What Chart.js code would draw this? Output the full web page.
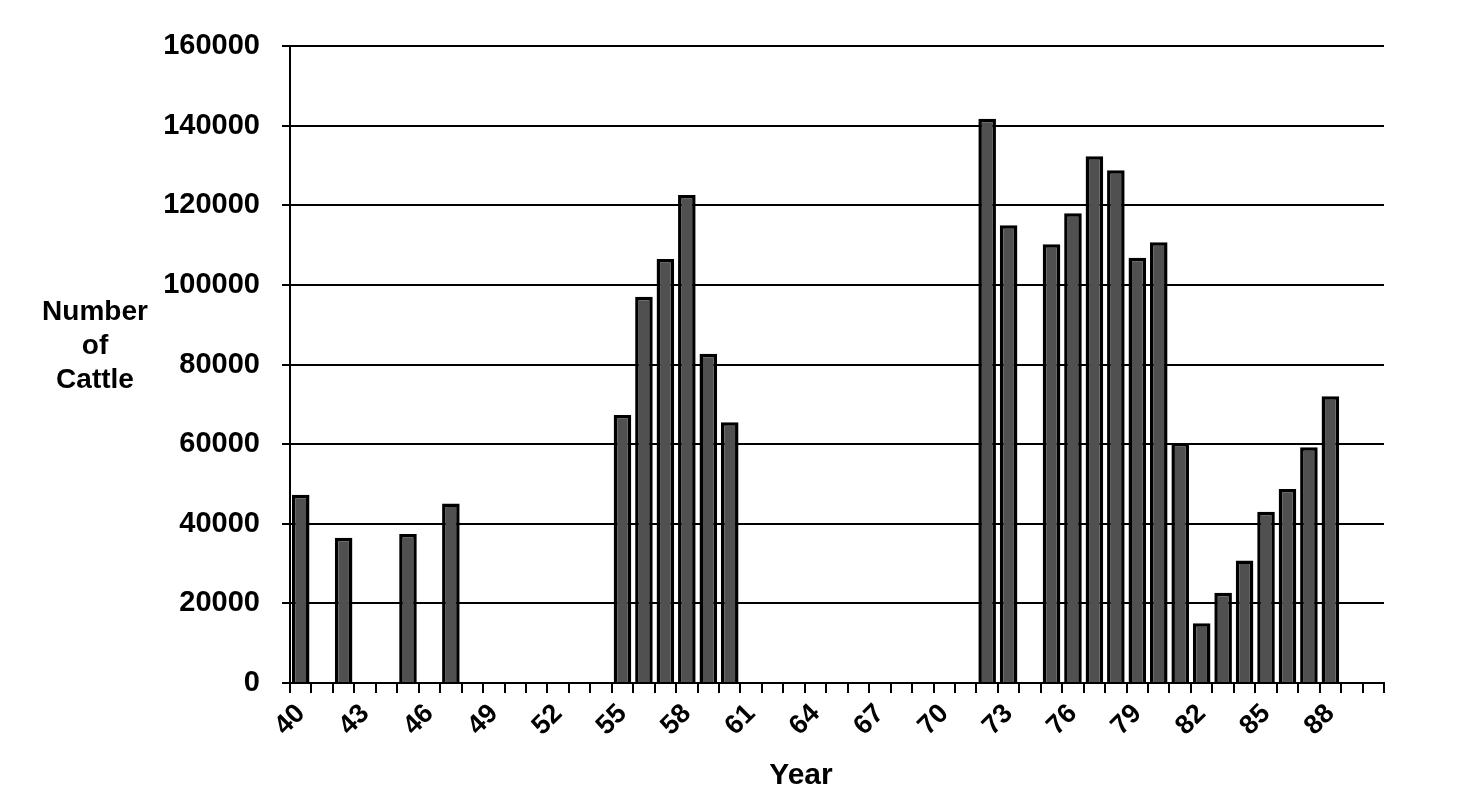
<!DOCTYPE html>
<html>
<head>
<meta charset="utf-8">
<script src="https://cdn.jsdelivr.net/npm/chart.js@4.4.1/dist/chart.umd.min.js"></script>
<style>
  html, body { margin: 0; padding: 0; background: #fff; }
  #wrap { position: relative; width: 1476px; height: 811px; }
</style>
</head>
<body>
<div id="wrap"><canvas id="c" width="1476" height="811"></canvas></div>
<script>
// ---- data ----
const years = ['40','41','42','43','44','45','46','47','48','49','50','51','52','53','54','55','56','57','58','59','60','61','62','63','64','65','66','67','68','69','70','71','72','73','74','75','76','77','78','79','80','81','82','83','84','85','86','87','88','89','90'];
const cattle = [47300, null, 36500, null, null, 37400, null, 45100, null, null, null, null, null, null, null,
                67300, 97000, 106500, 122600, 82700, 65500,
                null, null, null, null, null, null, null, null, null, null, null,
                141700, 115000, null, 110200, 118000, 132300, 128800, 106800, 110700, 60300, 15000, 22700, 30800, 43000, 48700, 59200, 72000,
                null, null];
const yTicks = [0, 20000, 40000, 60000, 80000, 100000, 120000, 140000, 160000];
const xTitle = 'Year';
const yTitleLines = ['Number', 'of', 'Cattle'];

const FONT = '"Liberation Sans", Arial, sans-serif';

const titlePlugin = {
  id: 'axisTitles',
  afterDraw(chart) {
    const ctx = chart.ctx;
    ctx.save();
    ctx.fillStyle = '#000';
    ctx.textAlign = 'center';
    ctx.textBaseline = 'middle';
    ctx.font = 'bold 28px ' + FONT;
    yTitleLines.forEach((t, i) => ctx.fillText(t, 95, 312 + i * 34));
    ctx.font = 'bold 30px ' + FONT;
    ctx.fillText(xTitle, 801, 776);
    ctx.restore();
  }
};

new Chart(document.getElementById('c'), {
  type: 'bar',
  data: {
    labels: years,
    datasets: [{
      data: cattle,
      backgroundColor: '#505050',
      borderColor: '#000',
      borderWidth: 3.5,
      categoryPercentage: 1,
      barPercentage: 0.82
    }]
  },
  options: {
    responsive: false,
    animation: false,
    devicePixelRatio: 1,
    layout: { padding: { left: 0, right: 92, top: 46, bottom: 0 } },
    plugins: { legend: { display: false }, tooltip: { enabled: false }, title: { display: false } },
    scales: {
      x: {
        type: 'category',
        offset: true,
        grid: { offset: true, drawOnChartArea: false, drawTicks: true, tickLength: 10, color: '#000', lineWidth: 2 },
        border: { display: true, color: '#000', width: 2 },
        ticks: {
          autoSkip: false,
          maxRotation: 45,
          minRotation: 45,
          padding: 5,
          color: '#000',
          font: { family: FONT, size: 27, weight: 'bold' },
          callback: function (v, i) { return i % 3 === 0 ? years[i] : ''; }
        },
        afterFit(scale) { scale.height = 128; }
      },
      y: {
        min: 0,
        max: 160000,
        afterBuildTicks(scale) { scale.ticks = yTicks.map(v => ({ value: v })); },
        grid: { color: '#000', lineWidth: 2, tickLength: 8, drawTicks: true },
        border: { display: true, color: '#000', width: 2 },
        ticks: {
          padding: 22,
          color: '#000',
          font: { family: FONT, size: 29, weight: 'bold' },
          callback: v => String(v)
        },
        afterFit(scale) { scale.width = 290; }
      }
    }
  },
  plugins: [titlePlugin]
});
</script>
</body>
</html>
